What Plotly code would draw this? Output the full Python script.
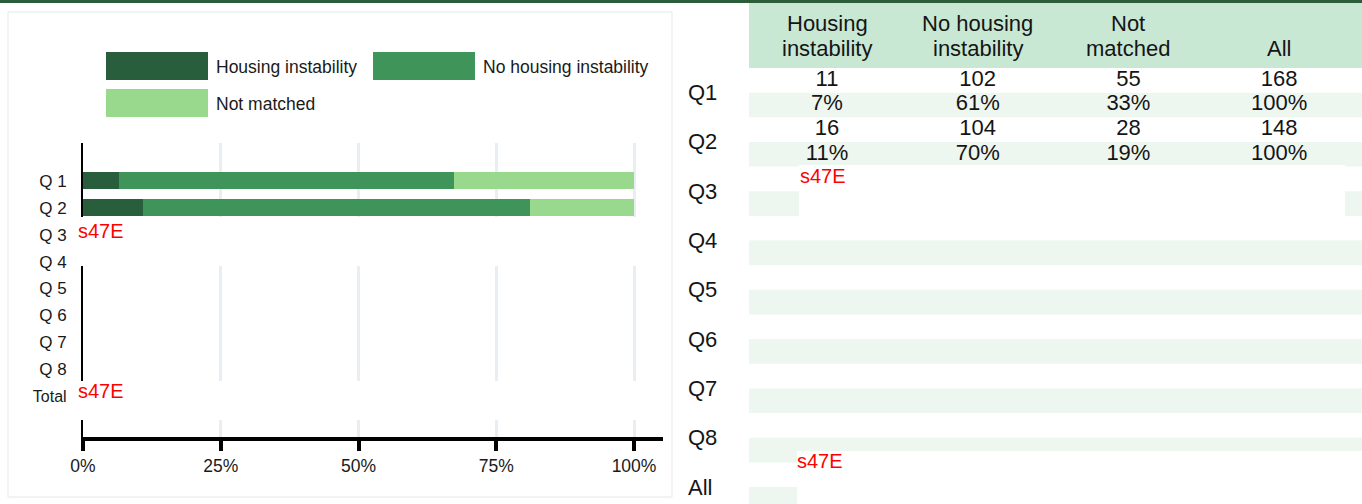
import plotly.graph_objects as go

W, H = 1362, 504

# ---------------- data ----------------
chart_labels = ["Q 1", "Q 2", "Q 3", "Q 4", "Q 5", "Q 6", "Q 7", "Q 8", "Total"]
series_names = ["Housing instability", "No housing instability", "Not matched"]
housing_instability = [11, 16]          # Q1, Q2
no_housing_instability = [102, 104]     # Q1, Q2
not_matched = [55, 28]                  # Q1, Q2
x_ticks = [0, 25, 50, 75, 100]
x_tick_labels = ["0%", "25%", "50%", "75%", "100%"]

table_rows = ["Q1", "Q2", "Q3", "Q4", "Q5", "Q6", "Q7", "Q8", "All"]
table_columns = ["Housing<br>instability", "No housing<br>instability", "Not<br>matched", "All"]
redaction_label = "s47E"

# ---------------- style ----------------
C_DARK = "#285e3b"
C_MID = "#3e9459"
C_LIGHT = "#98d98e"
C_HEAD = "#c9e8d4"
C_STRIPE = "#edf6ef"
C_TOP = "#2b5d3a"
FONT = "Liberation Sans, Arial, sans-serif"
TFS = 22  # table font size

def px(x):
    return x / W

def py(y):
    return 1 - y / H

counts = [housing_instability, no_housing_instability, not_matched]
totals = [sum(v) for v in zip(*counts)]
pcts = [[100 * c / t for c, t in zip(series, totals)] for series in counts]
colors = [C_DARK, C_MID, C_LIGHT]

fig = go.Figure()

# ---------------- stacked bar chart ----------------
bar_y = list(range(len(housing_instability)))
for name, vals, col in zip(series_names, pcts, colors):
    fig.add_trace(go.Bar(
        y=bar_y, x=vals, name=name, orientation="h", width=0.63,
        marker=dict(color=col, line=dict(width=0)),
        showlegend=False, xaxis="x", yaxis="y",
        hovertemplate=name + ": %{x:.1f}%<extra></extra>",
    ))

ticktext = [l if l != "Total" else '<span style="font-size:16px">Total</span>' for l in chart_labels]

# ---------------- table ----------------
col_x = list(range(len(table_columns)))
count_rows = [[housing_instability[i], no_housing_instability[i], not_matched[i], totals[i]]
              for i in range(len(totals))]
pct_rows = [[round(p[i]) for p in pcts] + [100] for i in range(len(totals))]

for qi in range(len(totals)):
    fig.add_trace(go.Scatter(
        x=col_x, y=[2 * qi] * len(col_x), mode="text",
        text=[str(v) for v in count_rows[qi]],
        textfont=dict(family=FONT, size=TFS, color="#151515"),
        showlegend=False, xaxis="x2", yaxis="y2", hoverinfo="skip",
    ))
    fig.add_trace(go.Scatter(
        x=col_x, y=[2 * qi + 1] * len(col_x), mode="text",
        text=[f"{v}%" for v in pct_rows[qi]],
        textfont=dict(family=FONT, size=TFS, color="#151515"),
        showlegend=False, xaxis="x2", yaxis="y2", hoverinfo="skip",
    ))

# table coordinate system: column centers at 827 + 150.7*i px, row r centered at 68 + 24.65*(r+0.5) px
CW, X0 = 150.7, 827.0
RH, Y0 = 24.65, 68.0

def tx(p):
    return (p - X0) / CW

def ty(p):
    return (p - Y0) / RH - 0.5

shapes = []
annotations = []

# top dark line
shapes.append(dict(type="rect", xref="paper", yref="paper", x0=0, x1=1, y0=py(3), y1=1,
                   fillcolor=C_TOP, line=dict(width=0), layer="below"))
# chart panel border
shapes.append(dict(type="rect", xref="paper", yref="paper", x0=px(8), x1=px(672), y0=py(497), y1=py(12),
                   fillcolor="white", line=dict(color="#e2e9ec", width=1), layer="below"))

# header fill
shapes.append(dict(type="rect", xref="x2", yref="y2", x0=tx(749), x1=tx(1362), y0=ty(3), y1=-0.5,
                   fillcolor=C_HEAD, line=dict(width=0), layer="below"))
# striped rows (percentage rows)
for r in range(1, 2 * len(table_rows), 2):
    shapes.append(dict(type="rect", xref="x2", yref="y2", x0=tx(749), x1=tx(1362), y0=r - 0.5, y1=r + 0.5,
                       fillcolor=C_STRIPE, line=dict(width=0), layer="below"))

# header texts
for ci, head in enumerate(table_columns):
    lines = head.split("<br>")
    for li, line in enumerate(reversed(lines)):
        annotations.append(dict(xref="x2", yref="y2", x=ci, y=ty(48 - 25 * li), text=line, showarrow=False,
                                font=dict(family=FONT, size=TFS, color="#151515"),
                                xanchor="center", yanchor="middle"))
# row labels
for ri, lab in enumerate(table_rows):
    annotations.append(dict(xref="x2", yref="y2", x=tx(686), y=2 * ri + 0.5, text=lab, showarrow=False,
                            font=dict(family=FONT, size=TFS, color="#151515"),
                            xanchor="left", yanchor="middle"))

# legend (manual, large swatches)
legend_items = [(106, 52, 0), (373, 52, 1), (106, 89, 2)]
for (lx, ly, si) in legend_items:
    shapes.append(dict(type="rect", xref="paper", yref="paper", x0=px(lx), x1=px(lx + 102),
                       y0=py(ly + 28), y1=py(ly), fillcolor=colors[si], line=dict(width=0)))
    annotations.append(dict(xref="paper", yref="paper", x=px(lx + 108), y=py(ly + 15),
                            text=series_names[si], showarrow=False, xanchor="left", yanchor="middle",
                            font=dict(family=FONT, size=17.5, color="#1a1a1a")))

# redaction boxes
red_boxes = [  # (x0, y0, x1, y1, text_x, text_y)
    (75, 217, 660, 266, 76, 231),
    (75, 381, 660, 420, 76, 391),
    (799, 165, 1345, 216, 798, 176),
    (797, 451, 1362, 504, 795, 461),
]
for (x0, y0, x1, y1, tx_, ty_) in red_boxes:
    shapes.append(dict(type="rect", xref="paper", yref="paper", x0=px(x0), x1=px(x1), y0=py(y1), y1=py(y0),
                       fillcolor="white", line=dict(width=0), layer="above"))
    annotations.append(dict(xref="paper", yref="paper", x=px(tx_), y=py(ty_), text=redaction_label,
                            showarrow=False, xanchor="left", yanchor="middle",
                            font=dict(family=FONT, size=20, color="#ff0000")))

fig.update_layout(
    width=W, height=H, autosize=False,
    margin=dict(l=0, r=0, t=0, b=0, pad=0, autoexpand=False),
    paper_bgcolor="white", plot_bgcolor="white",
    barmode="stack", bargap=0,
    font=dict(family=FONT, color="#1a1a1a"),
    xaxis=dict(domain=[px(83), px(663)], range=[0, 580 / 5.51], anchor="y", automargin=False,
               tickvals=x_ticks, ticktext=x_tick_labels, showgrid=True, gridcolor="#e8eef2", gridwidth=3,
               zeroline=False, showline=True, linecolor="black", linewidth=4,
               ticks="outside", ticklen=10, tickwidth=4, tickcolor="black",
               tickfont=dict(family=FONT, size=17.5, color="#1a1a1a"), fixedrange=True),
    yaxis=dict(domain=[py(437), py(143)], range=[9.519, -1.407], anchor="x", automargin=False,
               tickvals=list(range(len(chart_labels))), ticktext=ticktext,
               showgrid=False, zeroline=False, showline=True, linecolor="black", linewidth=2,
               ticks="", ticklabelstandoff=11,
               tickfont=dict(family=FONT, size=17, color="#1a1a1a"), fixedrange=True),
    xaxis2=dict(domain=[px(680), 1], range=[tx(680), tx(1362)], anchor="y2", visible=False,
                automargin=False, fixedrange=True),
    yaxis2=dict(domain=[0, 1], range=[ty(504), ty(0)], anchor="x2", visible=False,
                automargin=False, fixedrange=True),
    shapes=shapes, annotations=annotations,
    showlegend=False,
)

post = ("document.documentElement.style.margin='0';document.body.style.margin='0';"
        "document.body.style.overflow='hidden';"
        "var gd=document.getElementById('{plot_id}');gd.style.position='absolute';"
        "gd.style.left='0px';gd.style.top='0px';")
fig.write_html("out.html", config={"displayModeBar": False, "responsive": False}, post_script=post)
